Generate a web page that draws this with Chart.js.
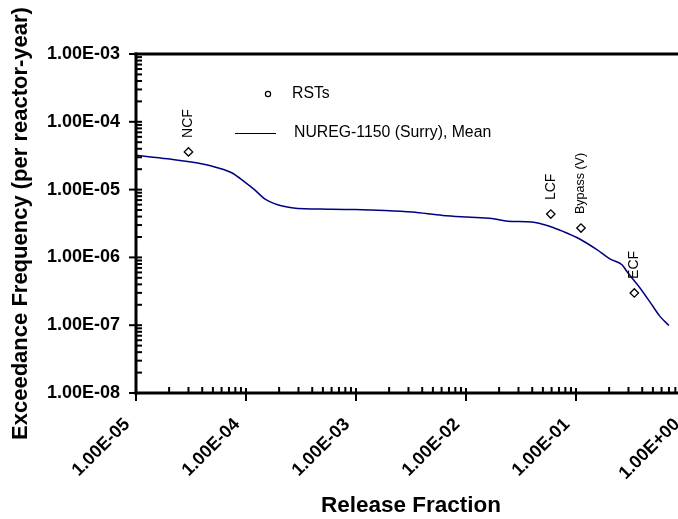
<!DOCTYPE html>
<html><head><meta charset="utf-8">
<script src="https://cdn.jsdelivr.net/npm/chart.js@4/dist/chart.umd.min.js"></script>
<style>html,body{margin:0;padding:0;overflow:hidden;background:#fff}canvas{display:block}</style>
</head><body>
<canvas id="c" width="700" height="519" style="width:700px;height:519px"></canvas>
<script>
// ---- data ----
const curveX = [1e-5, 1.94e-5, 3.94e-5, 5.5e-5, 7.4e-5, 9.7e-5, 1.2e-4, 1.48e-4, 1.94e-4, 2.6e-4, 3.4e-4, 5.5e-4, 9.7e-4, 1.82e-3, 3.24e-3, 6.15e-3, 1.02e-2, 1.72e-2, 2.4e-2, 3.97e-2, 5.8e-2, 7.6e-2, 0.108, 0.155, 0.203, 0.262, 0.290, 0.382, 0.50, 0.58, 0.70];
const curveY = [3.2e-5, 2.84e-5, 2.40e-5, 2.10e-5, 1.77e-5, 1.30e-5, 9.9e-6, 7.3e-6, 5.97e-6, 5.4e-6, 5.2e-6, 5.15e-6, 5.09e-6, 4.92e-6, 4.66e-6, 4.16e-6, 3.94e-6, 3.76e-6, 3.42e-6, 3.32e-6, 2.86e-6, 2.42e-6, 1.87e-6, 1.30e-6, 9.5e-7, 7.8e-7, 6.2e-7, 3.54e-7, 1.90e-7, 1.35e-7, 9.9e-8];
const rstX = [3.0e-5, 0.059, 0.111, 0.339];
const rstY = [3.6e-5, 4.36e-6, 2.71e-6, 2.99e-7];
const rstLabels = ['NCF', 'LCF', 'Bypass (V)', 'ECF'];
const xTickValues = [1e-5, 1e-4, 1e-3, 1e-2, 1e-1, 1];
const yTickValues = [1e-8, 1e-7, 1e-6, 1e-5, 1e-4, 1e-3];
const seriesNames = ['RSTs', 'NUREG-1150 (Surry), Mean'];
const xTitle = 'Release Fraction';
const yTitle = 'Exceedance Frequency (per reactor-year)';

function fmtE(v) {
  const s = Number(v).toExponential(2);
  const parts = s.split('e');
  const n = parseInt(parts[1], 10);
  return parts[0] + 'E' + (n < 0 ? '-' : '+') + String(Math.abs(n)).padStart(2, '0');
}

const FONT = "'Liberation Sans', Arial, sans-serif";
const LINE_COLOR = '#000080';

const decoPlugin = {
  id: 'deco',
  afterDraw(chart) {
    const {ctx, chartArea: a, scales: {x, y}} = chart;
    const seg = (x1, y1, x2, y2) => { ctx.beginPath(); ctx.moveTo(x1, y1); ctx.lineTo(x2, y2); ctx.stroke(); };
    ctx.save();
    ctx.strokeStyle = '#000';
    ctx.lineCap = 'butt';
    // tick marks
    ctx.lineWidth = 2;
    const ylo = Math.round(Math.log10(y.min)), yhi = Math.round(Math.log10(y.max));
    for (let k = ylo; k <= yhi; k++) {
      const py = y.getPixelForValue(Math.pow(10, k));
      seg(a.left - 7, py, a.left + 6, py);
      if (k < yhi) for (let m = 2; m <= 9; m++) {
        const q = y.getPixelForValue(m * Math.pow(10, k));
        seg(a.left, q, a.left + 6, q);
      }
    }
    const xlo = Math.round(Math.log10(x.min)), xhi = Math.round(Math.log10(x.max));
    for (let k = xlo; k <= xhi; k++) {
      const px = x.getPixelForValue(Math.pow(10, k));
      seg(px, a.bottom - 5, px, a.bottom + 8);
      if (k < xhi) for (let m = 2; m <= 9; m++) {
        const q = x.getPixelForValue(m * Math.pow(10, k));
        seg(q, a.bottom - 6, q, a.bottom);
      }
    }
    // axes and frame
    ctx.lineWidth = 3;
    seg(a.left, a.top - 1.5, a.left, a.bottom + 1.5);
    seg(a.left - 1.5, a.bottom, a.right + 1.5, a.bottom);
    seg(a.left - 1.5, a.top, a.right + 1.5, a.top);
    seg(a.right, a.top, a.right, a.bottom);

    // point labels
    const meta = chart.getDatasetMeta(0);
    ctx.fillStyle = '#000';
    meta.data.forEach((pt, i) => {
      const lab = rstLabels[i];
      const size = lab.length > 4 ? 12.5 : 14;
      ctx.save();
      ctx.translate(pt.x, pt.y - 14);
      ctx.rotate(-Math.PI / 2);
      ctx.font = size + 'px ' + FONT;
      ctx.textAlign = 'left';
      ctx.textBaseline = 'middle';
      ctx.fillText(lab, 0, 0);
      ctx.restore();
    });

    // legend
    ctx.font = '15.8px ' + FONT;
    ctx.textAlign = 'left';
    ctx.textBaseline = 'middle';
    ctx.lineWidth = 1.2;
    ctx.strokeStyle = '#000';
    ctx.beginPath(); ctx.arc(268, 94, 2.6, 0, Math.PI * 2); ctx.fillStyle = '#fff'; ctx.fill(); ctx.stroke();
    ctx.fillStyle = '#000';
    ctx.fillText(seriesNames[0], 292, 94);
    ctx.lineWidth = 1;
    seg(235, 133.5, 276, 133.5);
    ctx.fillText(seriesNames[1], 294, 133);
    ctx.restore();
  }
};

new Chart(document.getElementById('c'), {
  type: 'scatter',
  data: {
    datasets: [
      {
        label: seriesNames[0],
        data: rstX.map((v, i) => ({x: v, y: rstY[i]})),
        pointStyle: 'rectRot',
        pointRadius: 4.2,
        pointBorderWidth: 1.3,
        pointBorderColor: '#000',
        pointBackgroundColor: '#fff',
        showLine: false
      },
      {
        label: seriesNames[1],
        type: 'line',
        data: curveX.map((v, i) => ({x: v, y: curveY[i]})),
        borderColor: LINE_COLOR,
        borderWidth: 1.5,
        pointRadius: 0,
        fill: false,
        cubicInterpolationMode: 'monotone'
      }
    ]
  },
  options: {
    responsive: false,
    animation: false,
    devicePixelRatio: 1,
    layout: {padding: {left: 0, right: 14, top: 54, bottom: 0}},
    plugins: {legend: {display: false}, tooltip: {enabled: false}},
    scales: {
      x: {
        type: 'logarithmic',
        min: 1e-5, max: 1,
        grid: {display: false},
        border: {display: false},
        afterBuildTicks: s => { s.ticks = xTickValues.map(v => ({value: v})); },
        afterFit: s => { s.height = 126; s.paddingLeft = 0; s.paddingRight = 0; },
        ticks: {
          autoSkip: false,
          minRotation: 45, maxRotation: 45,
          padding: 13,
          labelOffset: -9,
          color: '#000',
          font: {family: FONT, size: 18, weight: 'bold'},
          callback: v => fmtE(v)
        },
        title: {display: true, text: xTitle, color: '#000', font: {family: FONT, size: 22.5, weight: 'bold'}, padding: {top: 0, bottom: 0}}
      },
      y: {
        type: 'logarithmic',
        min: 1e-8, max: 1e-3,
        grid: {display: false},
        border: {display: false},
        afterBuildTicks: s => { s.ticks = yTickValues.map(v => ({value: v})); },
        afterFit: s => { s.width = 136; s.paddingTop = 0; s.paddingBottom = 0; },
        ticks: {
          autoSkip: false,
          padding: 8,
          color: '#000',
          font: {family: FONT, size: 18, weight: 'bold'},
          callback: v => fmtE(v)
        },
        title: {display: true, text: yTitle, color: '#000', font: {family: FONT, size: 22, weight: 'bold'}, padding: {top: 8, bottom: 0}}
      }
    }
  },
  plugins: [decoPlugin]
});
</script>
</body></html>
